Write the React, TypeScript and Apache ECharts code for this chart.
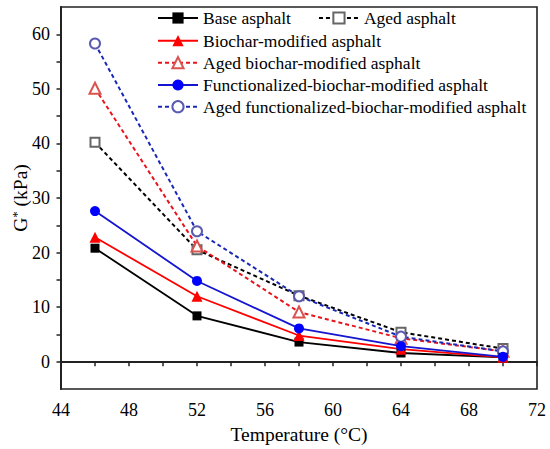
import React, { useEffect, useRef } from "react";
import * as echarts from "echarts";

const temps = [46, 52, 58, 64, 70];
const seriesNames = [
  "Base asphalt",
  "Aged asphalt",
  "Biochar-modified asphalt",
  "Aged biochar-modified asphalt",
  "Functionalized-biochar-modified asphalt",
  "Aged functionalized-biochar-modified asphalt",
];
const baseVals = [20.8, 8.4, 3.6, 1.6, 0.8];
const agedVals = [40.2, 20.5, 12.1, 5.4, 2.4];
const biocharVals = [22.8, 12.0, 4.8, 2.3, 0.8];
const agedBiocharVals = [50.1, 21.2, 9.1, 4.3, 1.9];
const funcVals = [27.6, 14.8, 6.1, 2.85, 0.9];
const agedFuncVals = [58.3, 23.9, 12.0, 4.6, 1.9];
const xTicks = [44, 48, 52, 56, 60, 64, 68, 72];
const xTickMarks = [44, 46, 48, 50, 52, 54, 56, 58, 60, 62, 64, 66, 68, 70, 72];
const yMajor = [0, 10, 20, 30, 40, 50, 60];
const yTickMarks = [0, 5, 10, 15, 20, 25, 30, 35, 40, 45, 50, 55, 60];

const FONT = "'Liberation Serif', 'Times New Roman', serif";

function pairs(vals: number[]) {
  return temps.map((t, i) => [t, vals[i]]);
}

export default function App() {
  const ref = useRef<HTMLDivElement>(null);
  useEffect(() => {
    if (!ref.current) return;
    const chart = echarts.init(ref.current, undefined, { renderer: "svg" });
    const legendCommon = {
      left: 157,
      padding: 0,
      itemWidth: 40,
      itemHeight: 14,
      itemGap: 27,
      textStyle: { fontFamily: FONT, fontSize: 17.5, color: "#000", lineHeight: 20 },
    };
    const solid = (color: string) => ({ type: "solid", width: 1.8, color });
    const dashed = (color: string) => ({ type: [4, 3], width: 2, color });
    chart.setOption({
      animation: false,
      backgroundColor: "#fff",
      textStyle: { fontFamily: FONT },
      grid: {
        left: 61,
        right: 13,
        top: 7,
        bottom: 60,
        containLabel: false,
        outerBoundsMode: "none",
        show: true,
        borderColor: "#222",
        borderWidth: 1.6,
        backgroundColor: "transparent",
      },
      graphic: [
        {
          type: "text",
          x: 20,
          y: 198,
          rotation: Math.PI / 2,
          style: {
            text: "{g|G}{s|*}{g| (kPa)}",
            align: "center",
            verticalAlign: "middle",
            fill: "#000",
            rich: {
              g: { fontFamily: FONT, fontSize: 19.5, fill: "#000" },
              s: { fontFamily: FONT, fontSize: 13, fill: "#000", padding: [0, 0, 8, 0] },
            },
          },
        },
      ],
      legend: [
        { ...legendCommon, top: 8, data: [seriesNames[0], seriesNames[1]] },
        { ...legendCommon, top: 30.7, data: [seriesNames[2]] },
        { ...legendCommon, top: 52.7, data: [seriesNames[3]] },
        { ...legendCommon, top: 75, data: [seriesNames[4]] },
        { ...legendCommon, top: 96.7, data: [seriesNames[5]] },
      ],
      xAxis: {
        type: "value",
        min: 44,
        max: 72,
        interval: 4,
        name: "Temperature (°C)",
        nameLocation: "middle",
        nameGap: 35,
        nameTextStyle: { fontFamily: FONT, fontSize: 19.5, color: "#000" },
        axisLine: { show: true, lineStyle: { color: "#222", width: 2 } },
        axisTick: {
          show: true,
          inside: false,
          length: 4.5,
          customValues: xTickMarks,
          lineStyle: { color: "#222", width: 1.5 },
        },
        minorTick: { show: false },
        axisLabel: {
          fontFamily: FONT,
          fontSize: 18,
          color: "#000",
          margin: 12,
          customValues: xTicks,
        },
        splitLine: { show: false },
      },
      yAxis: {
        type: "value",
        min: -5,
        max: 65,
        axisLine: { show: true, lineStyle: { color: "#222", width: 2 } },
        axisTick: {
          show: true,
          inside: false,
          length: 4.5,
          customValues: yTickMarks,
          lineStyle: { color: "#222", width: 1.5 },
        },
        axisLabel: {
          fontFamily: FONT,
          fontSize: 18,
          color: "#000",
          margin: 11,
          customValues: yMajor,
        },
        splitLine: { show: false },
      },
      series: [
        {
          name: seriesNames[1],
          type: "line",
          data: pairs(agedVals),
          symbol: "emptyRect",
          symbolSize: 9,
          lineStyle: dashed("#000"),
          itemStyle: { color: "#666", borderWidth: 1.2 },
          z: 2,
        },
        {
          name: seriesNames[3],
          type: "line",
          data: pairs(agedBiocharVals),
          symbol: "emptyTriangle",
          symbolSize: 11,
          lineStyle: dashed("#e8141c"),
          itemStyle: { color: "#d9534f", borderWidth: 1.2 },
          z: 2,
        },
        {
          name: seriesNames[5],
          type: "line",
          data: pairs(agedFuncVals),
          symbol: "emptyCircle",
          symbolSize: 10,
          lineStyle: dashed("#1a28b8"),
          itemStyle: { color: "#5a5ab0", borderWidth: 1.2 },
          z: 2,
        },
        {
          name: seriesNames[0],
          type: "line",
          data: pairs(baseVals),
          symbol: "rect",
          symbolSize: 9,
          lineStyle: solid("#000"),
          itemStyle: { color: "#000" },
          z: 3,
        },
        {
          name: seriesNames[2],
          type: "line",
          data: pairs(biocharVals),
          symbol: "triangle",
          symbolSize: 11,
          lineStyle: solid("#f00"),
          itemStyle: { color: "#f00" },
          z: 3,
        },
        {
          name: seriesNames[4],
          type: "line",
          data: pairs(funcVals),
          symbol: "circle",
          symbolSize: 10,
          lineStyle: solid("#1515d0"),
          itemStyle: { color: "#0000ff" },
          z: 3,
        },
      ],
    });
    return () => chart.dispose();
  }, []);
  return (
    <div
      ref={ref}
      style={{ position: "fixed", left: 0, top: 0, width: 550, height: 449, background: "#fff" }}
    />
  );
}
